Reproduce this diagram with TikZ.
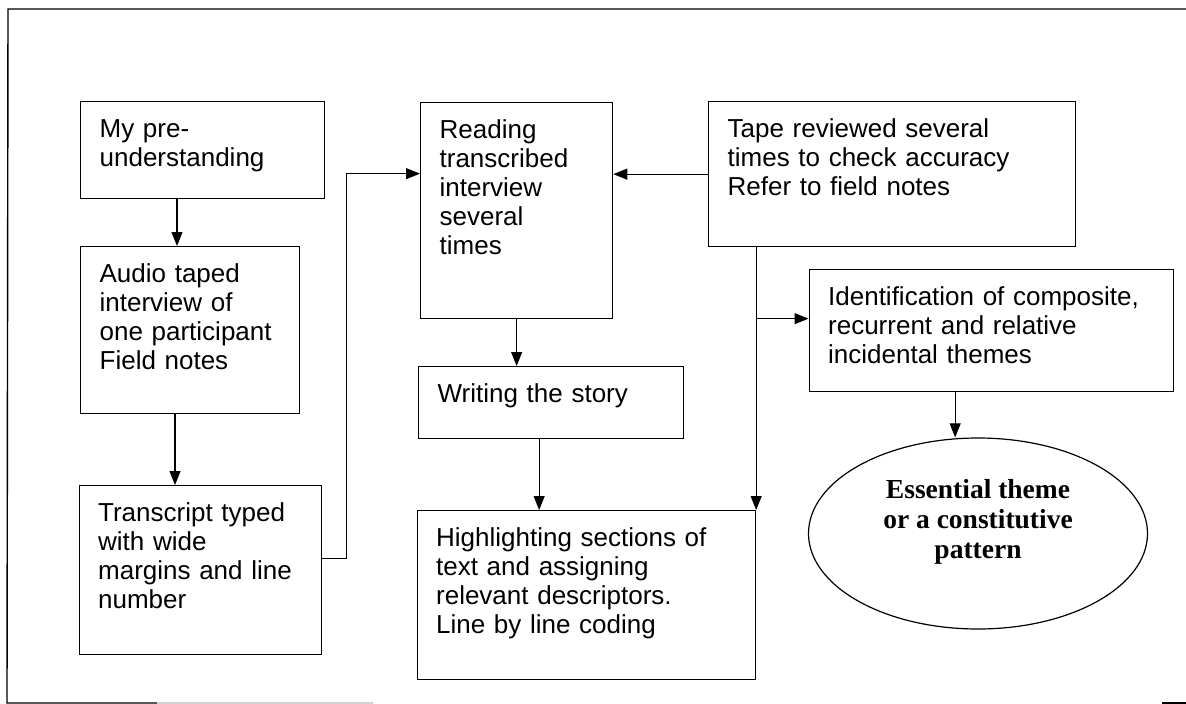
\documentclass[tikz,border=0pt]{standalone}
\usepackage{fontspec}
\setmainfont{Liberation Sans}
\newfontfamily\ovalfont{Liberation Serif}
\usetikzlibrary{arrows.meta,shapes.geometric}

\tikzset{
	stage/.style={draw, line width=1.3pt, anchor=north west, align=left, inner xsep=19pt, inner ysep=17pt, text height=19pt, font=\fontsize{26}{29}\selectfont},
	oval/.style={draw, ellipse, line width=1.2pt, minimum width=339pt, minimum height=191pt, inner sep=0pt, align=center, font=\ovalfont\bfseries\fontsize{27.5}{30}\selectfont},
	link/.style={line width=1.1pt, -{Triangle[length=14pt,width=11pt]}},
	frame/.style={line width=1.4pt}
}

\begin{document}
\begin{tikzpicture}[x=1pt,y=-1pt]
	\useasboundingbox (0,0) rectangle (1186,704);
	
	% outer frame
	\draw[frame] (1186,9) -- (8,9) -- (7,703) -- (157,703);
	\draw[frame, gray!35] (157,703) -- (373,703);
	\draw[frame] (1162,703) -- (1186,703);
	
	\node[stage, text width=206pt, text depth=44pt] (pre) at (80,101) {My pre-\\understanding};
	\node[stage, text width=181pt, text depth=114pt] (audio) at (80,246) {Audio taped\\interview of\\one participant\\Field notes};
	\node[stage, text width=204pt, text depth=116pt] (typed) at (78.5,485) {Transcript typed\\with wide\\margins and line\\number};
	\node[stage, text width=154pt, text depth=163pt] (reading) at (420,102) {Reading\\transcribed\\interview\\several\\times};
	\node[stage, text width=227pt, text depth=19pt] (story) at (418,366) {Writing the story};
	\node[stage, text width=300pt, text depth=116pt] (coding) at (416.5,510) {Highlighting sections of\\text and assigning\\relevant descriptors.\\Line by line coding};
	\node[stage, text width=329pt, text depth=92pt] (tape) at (708,101) {Tape reviewed several\\times to check accuracy\\Refer to field notes};
	\node[stage, text width=326pt, text depth=69pt] (themes) at (808.5,269) {Identification of composite,\\recurrent and relative\\incidental themes};
	\node[oval] (essence) at (978,533.5) {Essential theme\\or a constitutive\\pattern\\\mbox{}};
	
	\draw[link] ([xshift=97pt]pre.south west) -- ([xshift=97pt]pre.south west |- audio.north);
	\draw[link] ([xshift=95pt]audio.south west) -- ([xshift=95pt]audio.south west |- typed.north);
	\draw[link] ([yshift=11.5pt]typed.east) -- ++(25,0) |- ([yshift=37pt]reading.west);
	\draw[link] (tape.west) -- (tape.west -| reading.east);
	\draw[link] (reading.south) -- (reading.south |- story.north);
	\draw[link] ([xshift=-12pt]story.south) -- ([xshift=-12pt]story.south |- coding.north);
	
	\coordinate (drop) at ([xshift=48.15pt]tape.south west);
	\coordinate (branch) at ([yshift=12pt]themes.west);
	\draw[link] (drop) -- (drop |- coding.north);
	\draw[link] (drop |- branch) -- (branch);
	\draw[link] ([xshift=-36pt]themes.south) -- ([xshift=-36pt]themes.south |- essence.north);
\end{tikzpicture}
\end{document}
